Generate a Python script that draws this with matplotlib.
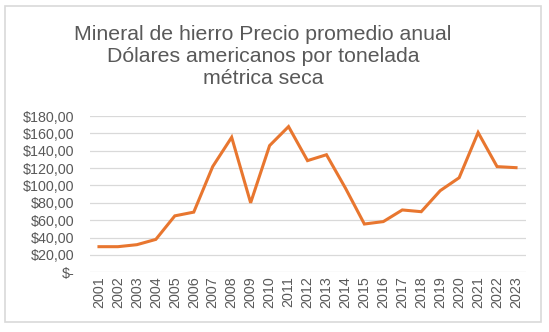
# Iron ore annual average price chart
import matplotlib
matplotlib.use('Agg')
import matplotlib.pyplot as plt
from matplotlib.patches import Rectangle

years = ['2001', '2002', '2003', '2004', '2005', '2006', '2007', '2008', '2009', '2010', '2011', '2012',
         '2013', '2014', '2015', '2016', '2017', '2018', '2019', '2020', '2021', '2022', '2023']
prices = [29.5, 29.5, 31.8, 37.9, 65.0, 69.3, 121.8, 155.5, 80.0, 145.9, 167.8, 128.6,
          135.4, 97.0, 55.6, 58.4, 71.8, 69.8, 94.0, 108.9, 161.0, 121.7, 120.5]
yticks = [0, 20, 40, 60, 80, 100, 120, 140, 160, 180]
ytick_labels = ['$-', '$20,00', '$40,00', '$60,00', '$80,00', '$100,00', '$120,00',
                '$140,00', '$160,00', '$180,00']
title = 'Mineral de hierro Precio promedio anual\nDólares americanos por tonelada\nmétrica seca'

text_color = '#595959'
plt.rcParams['font.family'] = ['Liberation Sans', 'DejaVu Sans']

fig = plt.figure(figsize=(5.49, 3.32), dpi=100)
fig.patches.append(Rectangle((5 / 549, 1 - 322 / 332), 536 / 549, 316 / 332,
                             transform=fig.transFigure, fill=False,
                             edgecolor='#D9D9D9', linewidth=1.2))

ax = fig.add_axes([89.5 / 549, 1 - 272.3 / 332, 436 / 549, 156.3 / 332])
x = range(len(years))
ax.plot(x, prices, color='#E8762F', linewidth=2.2, solid_joinstyle='miter')
ax.set_xlim(-0.5, len(years) - 0.5)
ax.set_ylim(0, 180)
ax.set_yticks(yticks)
ax.set_yticklabels(ytick_labels)
ax.set_xticks(list(x))
ax.set_xticklabels(years, rotation=90)
ax.tick_params(axis='both', length=0, labelsize=10.3, colors=text_color)
ax.tick_params(axis='y', pad=11)
ax.tick_params(axis='x', pad=3)
ax.grid(axis='y', color='#D9D9D9', linewidth=0.9)
ax.set_axisbelow(True)
for s in ax.spines.values():
    s.set_visible(False)

fig.text(263 / 549, 1 - 56 / 332, title, ha='center', va='center', fontsize=15.3,
         color=text_color, linespacing=1.2)

fig.savefig('out.png', dpi=100)
